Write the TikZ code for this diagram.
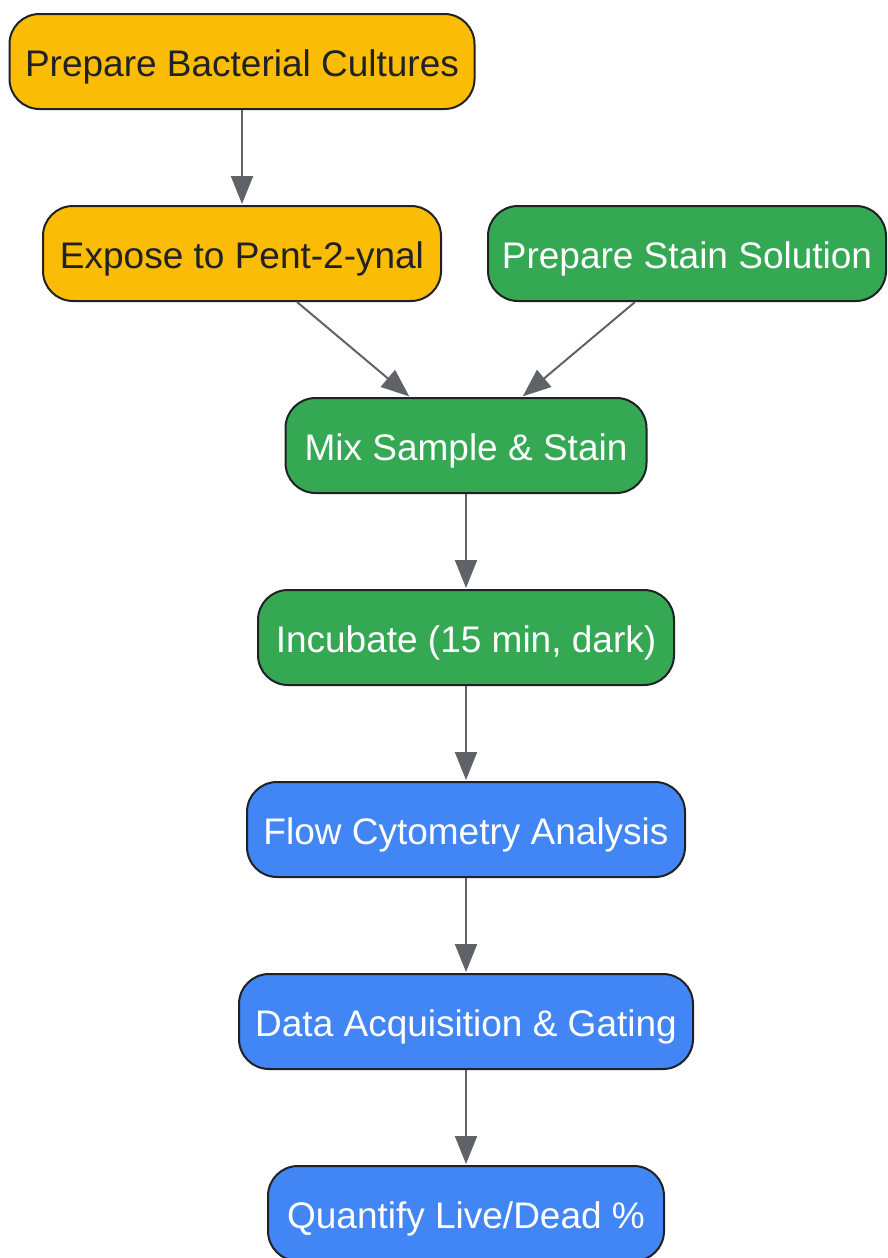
\documentclass[tikz,border=0pt]{standalone}
\usepackage{fontspec}
\setmainfont{Liberation Sans}
\usetikzlibrary{arrows.meta}
\definecolor{gyellow}{HTML}{FBBC05}
\definecolor{ggreen}{HTML}{34A853}
\definecolor{gblue}{HTML}{4285F4}
\definecolor{gdark}{HTML}{202124}
\definecolor{ggray}{HTML}{5F6368}
\begin{document}
\begin{tikzpicture}[x=1pt,y=-1pt,
  box/.style={draw=gdark, line width=2pt, rounded corners=30pt, minimum height=95pt, inner sep=0pt,
    text height=33pt, text depth=4pt, font=\fontsize{37}{42}\selectfont},
  ybox/.style={box, fill=gyellow, text=gdark},
  gbox/.style={box, fill=ggreen, text=white},
  bbox/.style={box, fill=gblue, text=white},
  arr/.style={draw=ggray, line width=2pt, -{Triangle[length=28pt,width=22pt]}, shorten >=1pt}]
\useasboundingbox (0,0) rectangle (887,1258);
\node[ybox, minimum width=465pt] (n1) at (242,61.5) {Prepare Bacterial Cultures};
\node[ybox, minimum width=398pt] (n2) at (242,253.5) {Expose to Pent-2-ynal};
\node[gbox, minimum width=398pt] (n3) at (687,253.5) {Prepare Stain Solution};
\node[gbox, minimum width=361pt] (n4) at (466,445.5) {Mix Sample \& Stain};
\node[gbox, minimum width=416pt] (n5) at (466,637.5) {Incubate (15 min, dark)};
\node[bbox, minimum width=438pt] (n6) at (466,829.5) {Flow Cytometry Analysis};
\node[bbox, minimum width=454pt] (n7) at (466,1021.5) {Data Acquisition \& Gating};
\node[bbox, minimum width=396pt] (n8) at (466,1213.5) {Quantify Live/Dead \%};
\draw[arr] (n1.south) -- (n2.north);
\draw[arr] ([xshift=55pt]n2.south) -- ([xshift=-56pt]n4.north);
\draw[arr] ([xshift=-52pt]n3.south) -- ([xshift=56pt]n4.north);
\draw[arr] (n4.south) -- (n5.north);
\draw[arr] (n5.south) -- (n6.north);
\draw[arr] (n6.south) -- (n7.north);
\draw[arr] (n7.south) -- (n8.north);
\end{tikzpicture}
\end{document}
